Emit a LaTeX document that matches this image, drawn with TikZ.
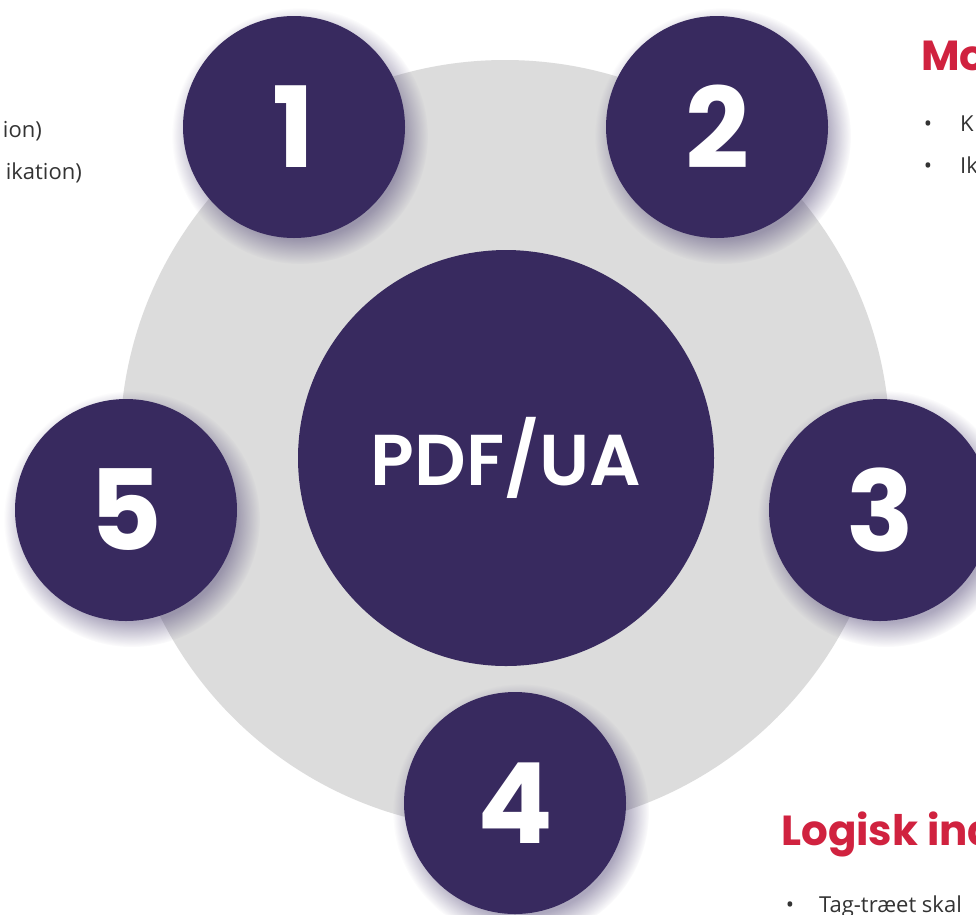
\documentclass[tikz,border=0pt]{standalone}
\usepackage{fontspec}
\setmainfont{Open Sans}
\newfontfamily\pop{Poppins}
\IfFontExistsTF{Poppins SemiBold}
  {\newfontfamily\popsb{Poppins SemiBold}}
  {\newfontfamily\popsb{Poppins}[UprightFont=*-Bold]}
\usetikzlibrary{fadings}
\definecolor{purp}{HTML}{382A5F}
\definecolor{ring}{HTML}{DCDCDC}
\definecolor{redh}{HTML}{D0223F}
\definecolor{txt}{HTML}{333333}
\definecolor{shad}{HTML}{4A3F70}
\tikzset{
  numcirc/.style={circle, fill=purp, minimum size=222pt, inner sep=0pt, text=white,
    font=\pop\bfseries\fontsize{112}{112}\selectfont},
  softshadow/.style={fill=shad, opacity=0.45, path fading=circle with fuzzy edge 20 percent},
  head/.style={anchor=base west, inner sep=0pt, text=redh, font=\pop\bfseries\fontsize{42}{46}\selectfont},
  body/.style={inner sep=0pt, text=txt, font=\fontsize{22}{26}\selectfont},
}
\begin{document}
\begin{tikzpicture}[x=1pt,y=-1pt]
\useasboundingbox (0,0) rectangle (976,914);
\clip (0,0) rectangle (976,914);
\fill[white] (0,0) rectangle (976,914);
% big grey disc
\node[circle, fill=ring, minimum size=770pt, inner sep=0pt] (ring) at (505,445) {};
% centre
\node[circle, fill=purp, minimum size=416pt, inner sep=0pt, text=white,
  font=\popsb\fontsize{72}{72}\selectfont] (core) at (506,458) {PDF/UA};
% shadows
\foreach \x/\y in {294/127, 717/127, 880/510, 515/803, 126/510}
  \fill[softshadow] (\x+6,\y+9) circle (128);
% numbered circles
\node[numcirc] (n1) at (294,127) {1};
\node[numcirc] (n2) at (717,127) {2};
\node[numcirc] (n3) at (880,510) {3};
\node[numcirc] (n4) at (515,803) {4};
\node[numcirc] (n5) at (126,510) {5};
% texts
\node[body, anchor=base east] (tl1) at (42,137) {ion)};
\node[body, anchor=base east] (tl2) at (82,179) {ikation)};
\node[head] (h2) at (921,70) {Mo};
\node[body, anchor=base] (b1) at (928,131) {•};
\node[body, anchor=base west] (t1) at (960,131) {K};
\node[body, anchor=base] (b2) at (928,173) {•};
\node[body, anchor=base west] (t2) at (960,173) {Ik};
\node[head] (h3) at (781,845) {Logisk ind};
\node[body, anchor=base] (b3) at (790,912) {•};
\node[body, anchor=base west] (t3) at (819,912) {Tag-træet skal};
\end{tikzpicture}
\end{document}
